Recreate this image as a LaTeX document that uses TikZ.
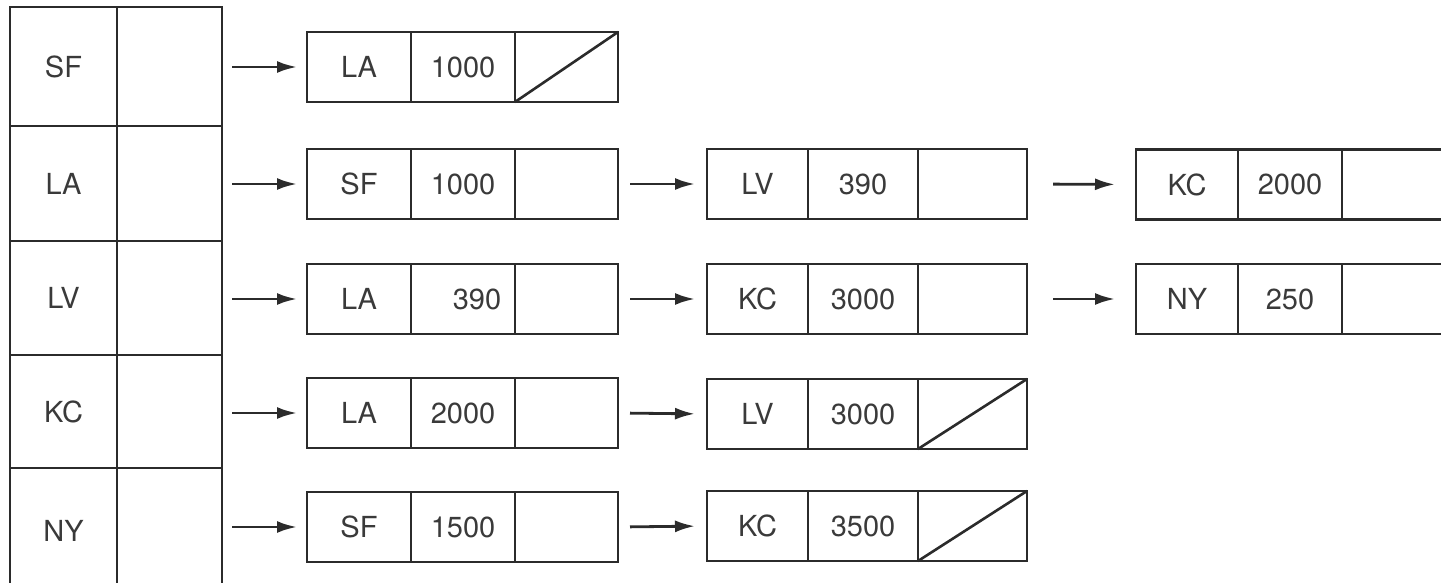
\documentclass[tikz,border=0pt]{standalone}
\usepackage{fontspec}
\setmainfont{TeX Gyre Heros}
\usetikzlibrary{arrows.meta}
\definecolor{ink}{HTML}{2B2B2B}
\definecolor{txt}{HTML}{3A3A3A}
\tikzset{
  cell/.style={draw=ink, line width=1.3pt, rectangle, inner sep=0pt, outer sep=0pt,
    minimum height=35pt, text=txt, font=\fontsize{14.5}{17}\selectfont},
  tcell/.style={cell, anchor=north west},
  arr/.style={draw=ink, line width=1.4pt, -{Latex[length=10pt,width=6pt]}},
  nullbar/.style={draw=ink, line width=1.3pt},
}
\newcommand\mybox[8]{%
  \node[cell, minimum width=#4*0.5pt, anchor=west] (#1a) at (#2,#3) {#7};
  \node[cell, minimum width=#5*0.5pt, anchor=west] (#1b) at (#1a.east) {#8};
  \node[cell, minimum width=#6*0.5pt, anchor=west] (#1c) at (#1b.east) {};
}
\begin{document}
\begin{tikzpicture}[x=0.5pt,y=-0.5pt]
\useasboundingbox (0,0) rectangle (1441,583);
\clip (0,0) rectangle (1441,583);
% table
\foreach \nm/\lab/\yt/\h in {t1/SF/7/119, t2/LA/126/115, t3/LV/241/114, t4/KC/355/113, t5/NY/468/125}{
  \node[tcell, minimum width=53.5pt, minimum height=\h*0.5pt] (\nm L) at (10,\yt) {\lab};
  \node[tcell, minimum width=52.5pt, minimum height=\h*0.5pt] (\nm R) at (117,\yt) {};
}
% boxes
\mybox{a1}{307}{67}{104}{104}{103}{LA}{1000}
\mybox{a2}{307}{184}{104}{104}{103}{SF}{1000}
\mybox{b2}{707}{184}{101}{110}{109}{LV}{390}
\mybox{c2}{1136}{184.5}{102}{104}{140}{KC}{2000}
\mybox{a3}{307}{299}{104}{104}{103}{LA}{\hspace*{14pt}390}
\mybox{b3}{707}{299}{101}{110}{109}{KC}{3000}
\mybox{c3}{1136}{299}{102}{104}{140}{NY}{250}
\mybox{a4}{307}{413}{104}{104}{103}{LA}{2000}
\mybox{b4}{707}{414}{101}{110}{109}{LV}{3000}
\mybox{a5}{307}{527}{104}{104}{103}{SF}{1500}
\mybox{b5}{707}{526}{101}{110}{109}{KC}{3500}
% null pointers
\draw[nullbar] (a1c.south west) -- (a1c.north east);
\draw[nullbar] (b4c.south west) -- (b4c.north east);
\draw[nullbar] (b5c.south west) -- (b5c.north east);
% arrows from table
\foreach \r/\b in {1/a1,2/a2,3/a3,4/a4,5/a5}{
  \draw[arr, shorten <=5pt, shorten >=5pt] (\b a.west -| t\r R.east) -- (\b a.west);
}
% arrows between boxes
\foreach \p/\q in {a2/b2,a3/b3,a4/b4,a5/b5}{
  \draw[arr, shorten <=6pt, shorten >=6pt] (\p c.east) -- (\q a.west);
}
\foreach \p/\q in {b2/c2,b3/c3}{
  \draw[arr, shorten <=13pt, shorten >=10.5pt] (\p c.east) -- (\q a.west);
}
\end{tikzpicture}
\end{document}
